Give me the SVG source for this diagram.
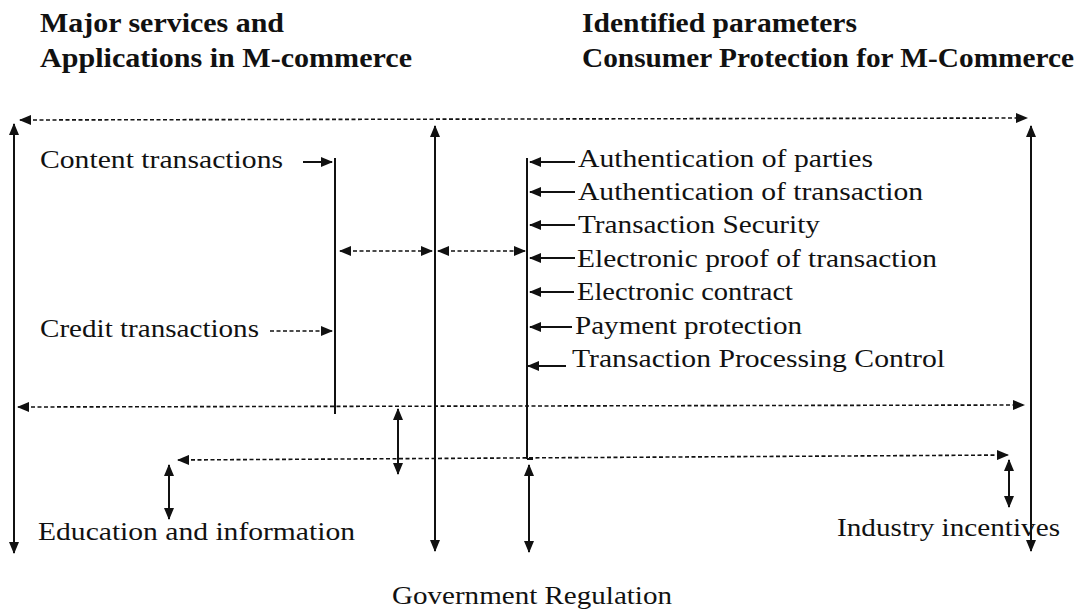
<svg xmlns="http://www.w3.org/2000/svg" width="1084" height="611" viewBox="0 0 1084 611">
<style>
.t{font-family:"Liberation Serif","Times New Roman",serif;fill:#111}
.b{font-weight:bold;font-size:28px}
.r{font-size:26px}
.ln{stroke:#111;stroke-width:2;fill:none}
.dl{stroke:#111;stroke-width:1.6;fill:none;stroke-dasharray:4 2.5}
</style>
<defs>
<marker id="ah" viewBox="0 0 12 10" refX="11" refY="5" markerWidth="12" markerHeight="10" markerUnits="userSpaceOnUse" orient="auto-start-reverse">
<path d="M0,0 L12,5 L0,10 z" fill="#111"/>
</marker>
</defs>
<rect width="1084" height="611" fill="#fff"/>

<g id="title-left">
<text class="t b" x="40" y="32" textLength="244" lengthAdjust="spacingAndGlyphs">Major services and</text>
<text class="t b" x="40" y="67" textLength="372" lengthAdjust="spacingAndGlyphs">Applications in M-commerce</text>
</g>
<g id="title-right">
<text class="t b" x="582" y="32" textLength="275" lengthAdjust="spacingAndGlyphs">Identified parameters</text>
<text class="t b" x="582" y="67" textLength="492" lengthAdjust="spacingAndGlyphs">Consumer Protection for M-Commerce</text>
</g>

<g id="content-transactions"><text class="t r" x="40" y="168" textLength="243" lengthAdjust="spacingAndGlyphs">Content transactions</text></g>
<g id="credit-transactions"><text class="t r" x="40" y="337" textLength="219" lengthAdjust="spacingAndGlyphs">Credit transactions</text></g>

<g id="auth-parties"><text class="t r" x="578" y="167" textLength="295" lengthAdjust="spacingAndGlyphs">Authentication of parties</text></g>
<g id="auth-transaction"><text class="t r" x="578" y="200" textLength="345" lengthAdjust="spacingAndGlyphs">Authentication of transaction</text></g>
<g id="transaction-security"><text class="t r" x="578" y="233" textLength="242" lengthAdjust="spacingAndGlyphs">Transaction Security</text></g>
<g id="electronic-proof"><text class="t r" x="577" y="267" textLength="360" lengthAdjust="spacingAndGlyphs">Electronic proof of transaction</text></g>
<g id="electronic-contract"><text class="t r" x="577" y="300" textLength="216" lengthAdjust="spacingAndGlyphs">Electronic contract</text></g>
<g id="payment-protection"><text class="t r" x="575" y="334" textLength="227" lengthAdjust="spacingAndGlyphs">Payment protection</text></g>
<g id="tpc"><text class="t r" x="572" y="367" textLength="373" lengthAdjust="spacingAndGlyphs">Transaction Processing Control</text></g>

<g id="education"><text class="t r" x="38" y="540" textLength="317" lengthAdjust="spacingAndGlyphs">Education and information</text></g>
<g id="industry"><text class="t r" x="837" y="536" textLength="223" lengthAdjust="spacingAndGlyphs">Industry incentives</text></g>
<g id="government"><text class="t r" x="392" y="604" textLength="280" lengthAdjust="spacingAndGlyphs">Government Regulation</text></g>

<g id="connectors">
<line class="ln" x1="14" y1="124" x2="14" y2="553" marker-start="url(#ah)" marker-end="url(#ah)"/>
<line class="ln" x1="435" y1="126" x2="435" y2="551" marker-start="url(#ah)" marker-end="url(#ah)"/>
<line class="ln" x1="1031" y1="126" x2="1031" y2="551" marker-start="url(#ah)" marker-end="url(#ah)"/>
<line class="dl" x1="20" y1="120" x2="1027" y2="118" marker-start="url(#ah)" marker-end="url(#ah)"/>
<line class="ln" x1="335" y1="158" x2="335" y2="414"/>
<line class="ln" x1="303" y1="162" x2="332" y2="162" marker-end="url(#ah)"/>
<line class="dl" x1="270" y1="331" x2="332" y2="331" marker-end="url(#ah)"/>
<line class="dl" x1="340" y1="251" x2="432" y2="251" marker-start="url(#ah)" marker-end="url(#ah)"/>
<line class="dl" x1="438" y1="251" x2="525" y2="251" marker-start="url(#ah)" marker-end="url(#ah)"/>
<line class="ln" x1="527" y1="158" x2="527" y2="459"/>
<line class="ln" x1="527" y1="459" x2="533" y2="459"/>
<line class="ln" x1="575" y1="162" x2="530" y2="162" marker-end="url(#ah)"/>
<line class="ln" x1="575" y1="192" x2="530" y2="192" marker-end="url(#ah)"/>
<line class="ln" x1="575" y1="225" x2="530" y2="225" marker-end="url(#ah)"/>
<line class="ln" x1="575" y1="258" x2="530" y2="258" marker-end="url(#ah)"/>
<line class="ln" x1="574" y1="292" x2="530" y2="292" marker-end="url(#ah)"/>
<line class="ln" x1="572" y1="327" x2="530" y2="327" marker-end="url(#ah)"/>
<line class="ln" x1="566" y1="366" x2="528" y2="366" marker-end="url(#ah)"/>
<line class="dl" x1="18" y1="407" x2="1024" y2="405" marker-start="url(#ah)" marker-end="url(#ah)"/>
<line class="dl" x1="178" y1="460" x2="1008" y2="455" marker-start="url(#ah)" marker-end="url(#ah)"/>
<line class="ln" x1="398" y1="409" x2="398" y2="474" marker-start="url(#ah)" marker-end="url(#ah)"/>
<line class="ln" x1="169" y1="465" x2="169" y2="519" marker-start="url(#ah)" marker-end="url(#ah)"/>
<line class="ln" x1="1009" y1="460" x2="1009" y2="507" marker-start="url(#ah)" marker-end="url(#ah)"/>
<line class="ln" x1="529" y1="465" x2="529" y2="552" marker-start="url(#ah)" marker-end="url(#ah)"/>
</g>
</svg>
